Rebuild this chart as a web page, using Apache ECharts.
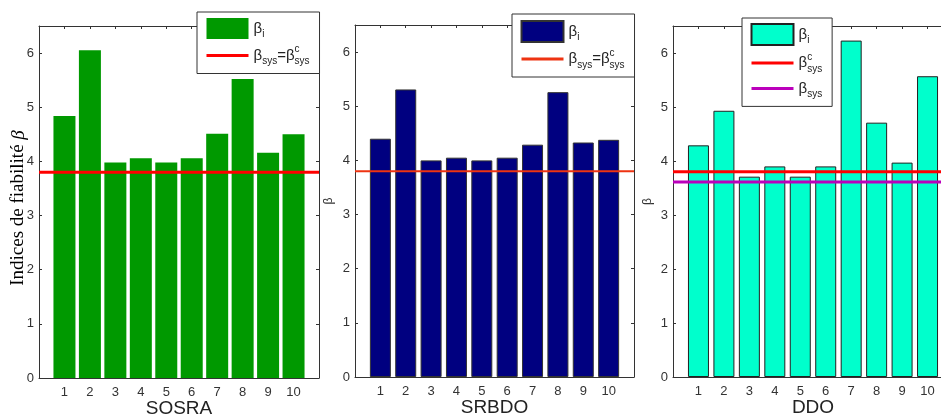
<!DOCTYPE html>
<html><head><meta charset="utf-8">
<script src="https://cdn.jsdelivr.net/npm/echarts@6/dist/echarts.min.js"></script>
<style>html,body{margin:0;padding:0;background:#fff}#c{width:941px;height:415px}</style>
</head><body><div id="c"></div><script>
// ---- data ----
const categories = [1, 2, 3, 4, 5, 6, 7, 8, 9, 10];
const yTicks = [0, 1, 2, 3, 4, 5, 6];
const sosraBeta = [4.84, 6.05, 3.98, 4.06, 3.98, 4.06, 4.51, 5.52, 4.16, 4.50];
const srbdoBeta = [4.40, 5.31, 4.00, 4.05, 4.00, 4.05, 4.29, 5.26, 4.33, 4.38];
const ddoBeta   = [4.29, 4.93, 3.71, 3.90, 3.71, 3.90, 6.23, 4.71, 3.97, 5.57];
const sosraSys = 3.80;
const srbdoSys = 3.80;
const ddoSysTarget = 3.80;
const ddoSys = 3.61;
const panelTitles = ['SOSRA', 'SRBDO', 'DDO'];
const xRange = [0, 11];
const yRange = [0, 6.5];

// ---- styling / layout ----
const grids = [
  {left: 39, top: 26, width: 280, height: 352},
  {left: 355, top: 25, width: 279, height: 352},
  {left: 673, top: 26, width: 280, height: 351}
];
const yNameGaps = [11, 20, 19];
const axisCol = '#333';
const sans = 'Liberation Sans, Arial, sans-serif';
const labelStyle = {fontFamily: sans, fontSize: 13, color: '#333'};

const pairs = vals => categories.map((c, i) => [c, vals[i]]);
const hline = v => [[xRange[0], v], [xRange[1], v]];

const xAxes = [], yAxes = [];
grids.forEach((g, i) => {
  xAxes.push({
    type: 'value', gridIndex: i, position: 'bottom', min: xRange[0], max: xRange[1],
    name: panelTitles[i], nameLocation: 'middle', nameGap: 21, nameMoveOverlap: false,
    nameTextStyle: {fontFamily: sans, fontSize: 19, color: '#222'},
    axisLine: {show: true, onZero: false, lineStyle: {color: axisCol, width: 1}},
    axisTick: {show: true, inside: true, length: 3, customValues: categories, lineStyle: {color: axisCol}},
    axisLabel: {show: true, margin: 8, customValues: categories, ...labelStyle},
    splitLine: {show: false}
  });
  xAxes.push({
    type: 'value', gridIndex: i, position: 'top', min: xRange[0], max: xRange[1],
    axisLine: {show: true, onZero: false, lineStyle: {color: axisCol, width: 1}},
    axisTick: {show: true, inside: true, length: 3, customValues: categories, lineStyle: {color: axisCol}},
    axisLabel: {show: false}, splitLine: {show: false}
  });
  const yName = i === 0 ? '{n|Indices de fiabilité }{g|β}' : 'β';
  yAxes.push({
    type: 'value', gridIndex: i, position: 'left', min: yRange[0], max: yRange[1],
    name: yName, nameLocation: 'middle', nameGap: yNameGaps[i], nameMoveOverlap: false,
    nameTextStyle: i === 0 ? {
      padding: [0, 12, 0, 0],
      rich: {
        n: {fontFamily: 'Liberation Serif, Times New Roman, serif', fontSize: 19, color: '#000'},
        g: {fontFamily: 'Liberation Serif, Times New Roman, serif', fontSize: 19, fontStyle: 'italic', color: '#000'}
      }
    } : {fontFamily: sans, fontSize: 12, color: '#333'},
    axisLine: {show: true, onZero: false, lineStyle: {color: axisCol, width: 1}},
    axisTick: {show: true, inside: true, length: 3, customValues: yTicks, lineStyle: {color: axisCol}},
    axisLabel: {show: true, margin: 5, customValues: yTicks, ...labelStyle},
    splitLine: {show: false}
  });
  yAxes.push({
    type: 'value', gridIndex: i, position: 'right', min: yRange[0], max: yRange[1],
    axisLine: {show: true, onZero: false, lineStyle: {color: axisCol, width: 1}},
    axisTick: {show: true, inside: true, length: 3, customValues: yTicks, lineStyle: {color: axisCol}},
    axisLabel: {show: false}, splitLine: {show: false}
  });
});

function bar(name, gi, vals, color, border, bw) {
  return {
    name, type: 'bar', xAxisIndex: gi * 2, yAxisIndex: gi * 2, data: pairs(vals),
    barWidth: bw, itemStyle: {color, borderColor: border || color, borderWidth: border ? 1 : 0},
    silent: true, animation: false, z: 2
  };
}
function line(name, gi, v, color, w) {
  return {
    name, type: 'line', xAxisIndex: gi * 2, yAxisIndex: gi * 2, data: hline(v),
    symbol: 'none', lineStyle: {color, width: w}, itemStyle: {color},
    silent: true, animation: false, z: 3
  };
}

const series = [
  bar('bi1', 0, sosraBeta, '#009900', null, 22),
  line('eq1', 0, sosraSys, '#ff0000', 3),
  bar('bi2', 1, srbdoBeta, '#000080', '#333', 21),
  line('eq2', 1, srbdoSys, '#ee3311', 2),
  bar('bi3', 2, ddoBeta, '#00ffcc', '#222', 21),
  line('c3', 2, ddoSysTarget, '#ff0000', 3),
  line('s3', 2, ddoSys, '#bb00bb', 3)
];

const legendText = {
  bi1: '{b|β}{sub|i}', bi2: '{b|β}{sub|i}', bi3: '{b|β}{sub|i}',
  eq1: '{b|β}{sub|sys}{b|=β}{sup|c}{sub|sys}',
  eq2: '{b|β}{sub|sys}{b|=β}{sup|c}{sub|sys}',
  c3: '{b|β}{sup|c}{sub|sys}',
  s3: '{b|β}{sub|sys}'
};
const rich = {
  b: {fontFamily: sans, fontSize: 15, lineHeight: 22, color: '#222'},
  sub: {fontFamily: sans, fontSize: 10, lineHeight: 11, verticalAlign: 'bottom', color: '#222'},
  sup: {fontFamily: sans, fontSize: 10, lineHeight: 11, verticalAlign: 'top', width: 0, color: '#222'}
};
function legend(names, left, top, pad, gap) {
  return {
    orient: 'vertical', left, top, padding: pad, itemGap: gap,
    itemWidth: 42, itemHeight: 21, selectedMode: false,
    backgroundColor: '#fff', borderColor: '#333', borderWidth: 1, borderRadius: 0,
    data: names.map(n => n.startsWith('bi')
      ? {name: n, icon: 'rect'}
      : {name: n, itemStyle: {opacity: 0}, lineStyle: {width: 3}}),
    formatter: n => legendText[n],
    textStyle: {rich, padding: [0, 0, 0, 0]},
    z: 10
  };
}

const option = {
  backgroundColor: '#fff',
  animation: false,
  grid: grids.map(g => ({...g, containLabel: false, outerBoundsMode: 'none'})),
  xAxis: xAxes, yAxis: yAxes, series,
  legend: [
    legend(['bi1', 'eq1'], 197, 12, [6, 10, 7, 8], 5),
    legend(['bi2', 'eq2'], 512, 14, [6, 10, 7, 8], 5),
    legend(['bi3', 'c3', 's3'], 742, 18, [5, 10, 7, 8], 6)
  ]
};
const chart = echarts.init(document.getElementById('c'), null, {renderer: 'canvas'});
chart.setOption(option);
</script></body></html>
